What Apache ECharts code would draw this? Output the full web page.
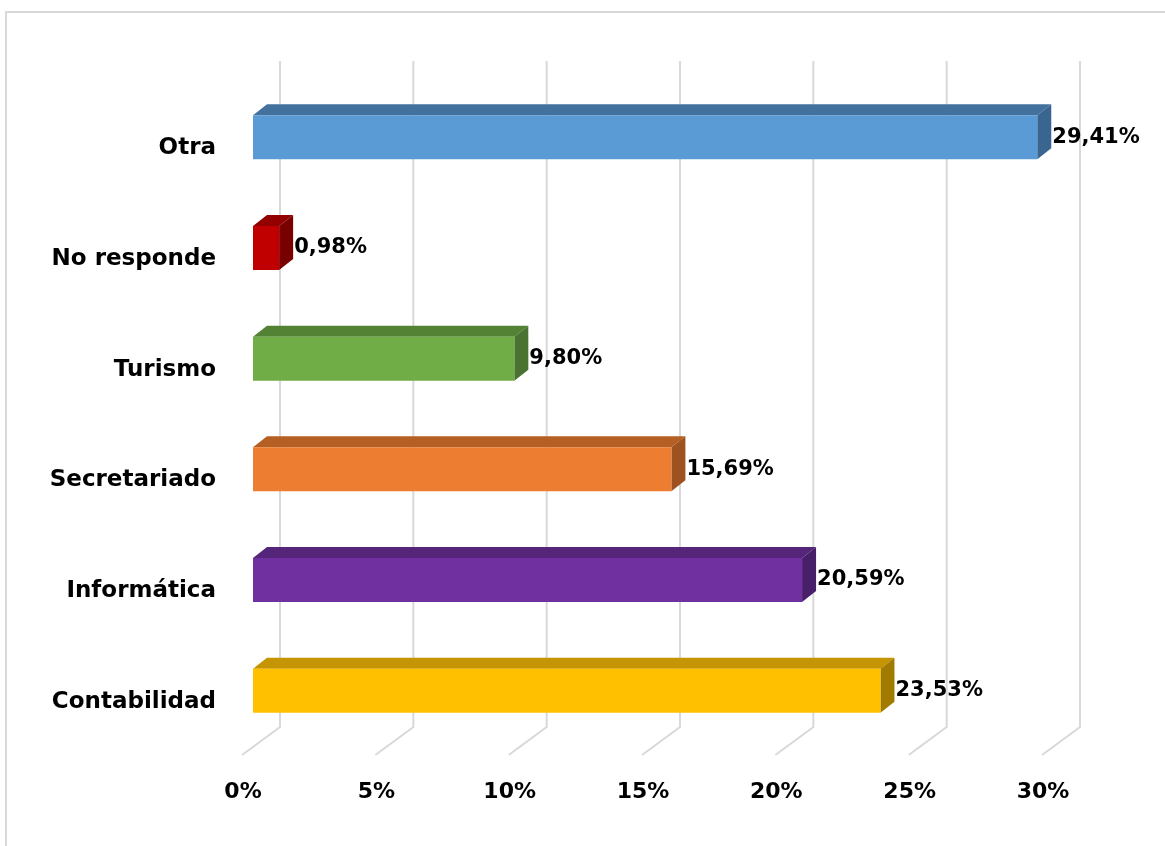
<!DOCTYPE html>
<html>
<head>
<meta charset="utf-8">
<script src="https://cdn.jsdelivr.net/npm/echarts@6/dist/echarts.min.js"></script>
<style>html,body{margin:0;padding:0;background:#fff;}#c{width:1165px;height:846px;}</style>
</head>
<body>
<div id="c"></div>
<script>
// Data (bottom to top)
const categories = ['Contabilidad', 'Informática', 'Secretariado', 'Turismo', 'No responde', 'Otra'];
const values = [23.53, 20.59, 15.69, 9.80, 0.98, 29.41];
const valueLabels = ['23,53%', '20,59%', '15,69%', '9,80%', '0,98%', '29,41%'];
const frontColors = ['#FFC000', '#7030A0', '#ED7D31', '#70AD47', '#C00000', '#5B9BD5'];
const topColors = ['#C49500', '#55257A', '#B55F25', '#548235', '#930000', '#43719E'];
const sideColors = ['#A17A00', '#48206A', '#9E521F', '#4A7230', '#780000', '#3A6591'];
const tickValues = [0, 5, 10, 15, 20, 25, 30];
const tickLabels = ['0%', '5%', '10%', '15%', '20%', '25%', '30%'];

const FONT = '"DejaVu Sans", sans-serif';
const chart = echarts.init(document.getElementById('c'));

const DX = 14, DY = 11, BAR_H = 44;

chart.setOption({
  animation: false,
  backgroundColor: '#fff',
  graphic: [{
    type: 'rect', shape: {x: 6, y: 12, width: 1200, height: 900},
    style: {fill: 'none', stroke: '#D9D9D9', lineWidth: 2}, z: -10
  }],
  grid: {left: 253, right: 112, top: 82, bottom: 100},
  xAxis: {
    type: 'value', min: 0, max: 30, interval: 5,
    axisLine: {show: false}, axisTick: {show: false}, splitLine: {show: false},
    axisLabel: {
      formatter: v => tickLabels[tickValues.indexOf(v)],
      fontFamily: FONT, fontWeight: 'bold', fontSize: 22, color: '#000',
      margin: 35, padding: [0, 20, 0, 0]
    }
  },
  yAxis: {
    type: 'category', data: categories,
    axisLine: {show: false}, axisTick: {show: false}, splitLine: {show: false},
    axisLabel: {
      fontFamily: FONT, fontWeight: 'bold', fontSize: 23, color: '#000',
      margin: 37, verticalAlign: 'top', lineHeight: 22
    }
  },
  series: [
    {
      type: 'custom', clip: false, z: 1,
      data: tickValues.map(v => [v]),
      renderItem: (params, api) => {
        const p = api.coord([api.value(0), 0]);
        const x = p[0];
        const yTop = 61, yBack = 727, yFront = 755;
        return {
          type: 'polyline',
          shape: {points: [[x + 27, yTop], [x + 27, yBack], [x - 11, yFront]]},
          style: {stroke: '#D9D9D9', lineWidth: 2, fill: null}
        };
      }
    },
    {
      type: 'custom', clip: false, z: 5,
      data: values.map((v, i) => [v, i]),
      renderItem: (params, api) => {
        const i = params.dataIndex;
        const end = api.coord([api.value(0), api.value(1)]);
        const start = api.coord([0, api.value(1)]);
        const x0 = start[0], x1 = end[0], yc = end[1];
        const yT = yc - BAR_H / 2, yB = yc + BAR_H / 2;
        return {
          type: 'group',
          children: [
            {type: 'polygon', shape: {points: [[x0, yT], [x0 + DX, yT - DY], [x1 + DX, yT - DY], [x1, yT]]},
             style: {fill: topColors[i]}},
            {type: 'polygon', shape: {points: [[x1, yT], [x1 + DX, yT - DY], [x1 + DX, yB - DY], [x1, yB]]},
             style: {fill: sideColors[i]}},
            {type: 'rect', shape: {x: x0, y: yT, width: x1 - x0, height: BAR_H},
             style: {fill: frontColors[i]}},
            {type: 'text', style: {x: x1 + DX + 1, y: yc, text: valueLabels[i], fill: '#000',
              font: 'bold 21px ' + FONT, align: 'left', verticalAlign: 'middle'}}
          ]
        };
      }
    }
  ]
});
</script>
</body>
</html>
